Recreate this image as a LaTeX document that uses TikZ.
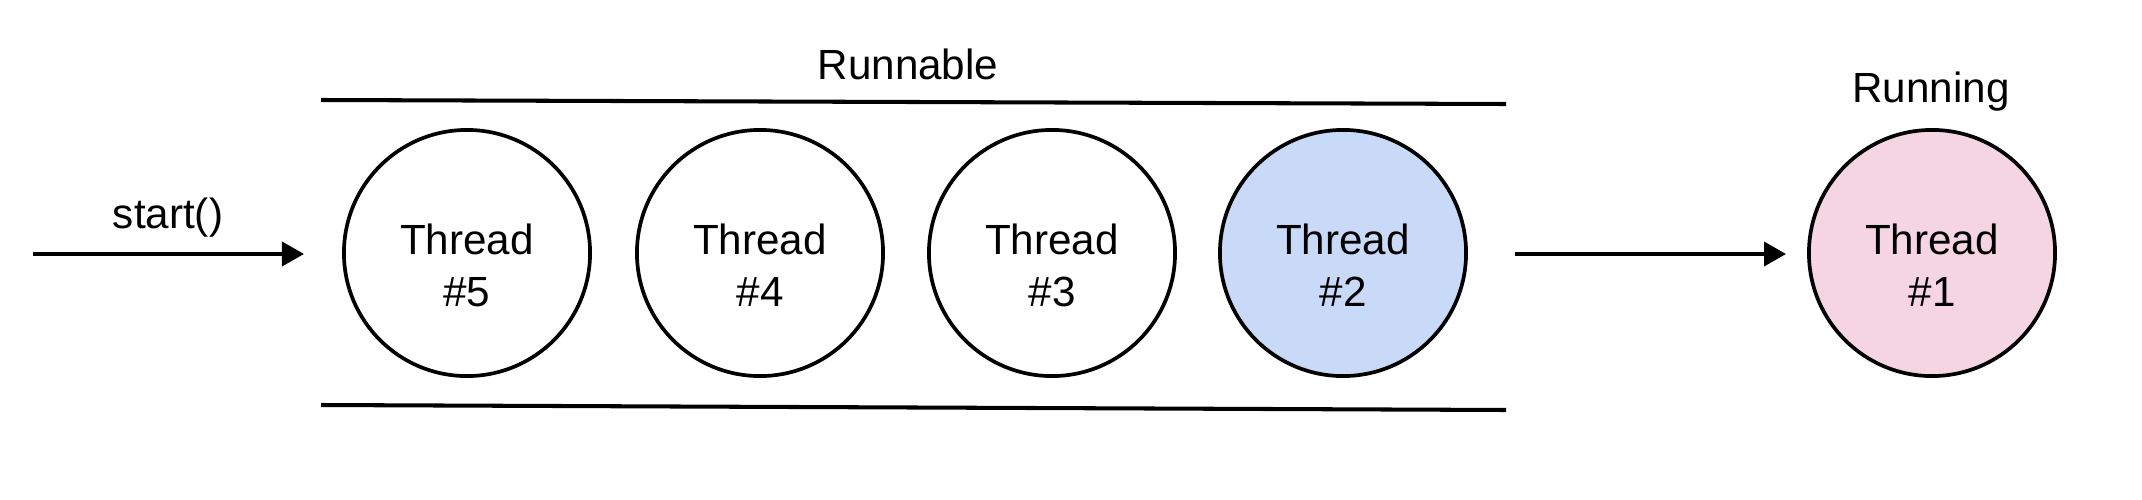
\documentclass[tikz,border=0pt]{standalone}
\usepackage{fontspec}
\setmainfont{Liberation Sans}
\usetikzlibrary{arrows.meta}
\definecolor{runblue}{HTML}{C9DAF8}
\definecolor{runpink}{HTML}{F5D5E1}
\begin{document}
\begin{tikzpicture}[x=0.01cm,y=-0.01cm,
  every node/.style={font=\fontsize{12pt}{14.8pt}\selectfont},
  threadc/.style={circle,draw=black,line width=1.05pt,minimum size=2.46cm,inner sep=0pt},
  lbl/.style={align=center,inner sep=0pt},
  conn/.style={line width=1.1pt,-{Triangle[length=0.22cm,width=0.24cm]}},
  rail/.style={line width=1.15pt}
]
\useasboundingbox (0,0) rectangle (2142,500);
% rails
\coordinate (tl) at (321,100);
\coordinate (tr) at (1506,104);
\coordinate (bl) at (321,405);
\coordinate (br) at (1506,410);
\draw[rail] (tl) -- (tr);
\draw[rail] (bl) -- (br);
% circles
\node[threadc,fill=white] (t5) at (467,253) {};
\node[threadc,fill=white] (t4) at (760,253) {};
\node[threadc,fill=white] (t3) at (1052,253) {};
\node[threadc,fill=runblue] (t2) at (1343,253) {};
\node[threadc,fill=runpink] (t1) at (1932,253) {};
\node[lbl] (l5) at ([yshift=-0.12cm]t5.center) {Thread\\\#5};
\node[lbl] (l4) at ([yshift=-0.12cm]t4.center) {Thread\\\#4};
\node[lbl] (l3) at ([yshift=-0.12cm]t3.center) {Thread\\\#3};
\node[lbl] (l2) at ([yshift=-0.12cm]t2.center) {Thread\\\#2};
\node[lbl] (l1) at ([yshift=-0.12cm]t1.center) {Thread\\\#1};
% labels
\node[inner sep=0pt,anchor=base] (runnable) at (908,80) {Runnable};
\node[inner sep=0pt,anchor=base] (running) at (1931,102) {Running};
\node[inner sep=0pt,anchor=base] (start) at (168,228) {start()};
% arrows
\coordinate (s0) at (33,254);
\coordinate (s1) at (304,254);
\coordinate (m0) at (1515,254);
\coordinate (m1) at (1786,254);
\draw[conn] (s0) -- (s1);
\draw[conn] (m0) -- (m1);
\end{tikzpicture}
\end{document}
